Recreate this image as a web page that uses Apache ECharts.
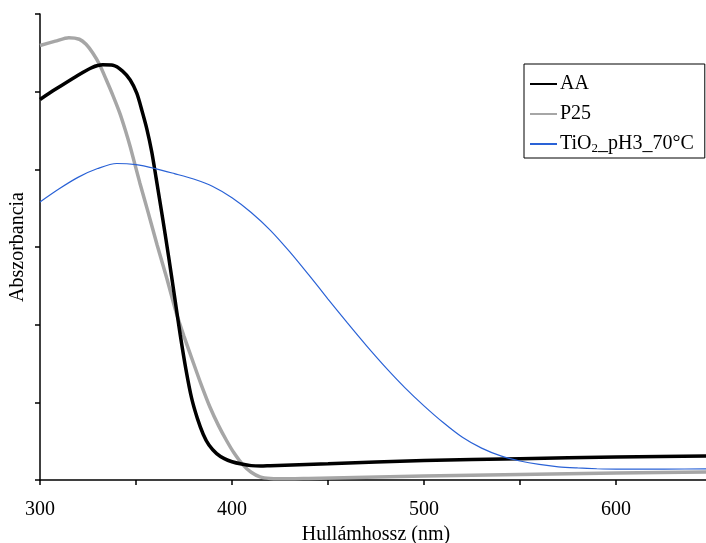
<!DOCTYPE html>
<html>
<head>
<meta charset="utf-8">
<script src="https://cdn.jsdelivr.net/npm/echarts@6/dist/echarts.min.js"></script>
<style>html,body{margin:0;padding:0;background:#fff}#c{width:706px;height:543px}</style>
</head>
<body>
<div id="c"></div>
<script>
// Wavelength (nm) and absorbance readings per series
var aaX = [300, 308, 319, 327, 332.6, 338, 343, 347, 350.4, 353, 355.6, 358.2, 360.4, 364, 367, 370, 373, 376, 379, 382, 385, 388, 392, 396, 400, 405, 410, 415, 420, 450, 500, 550, 600, 650];
var aaY = [0.98, 1.006, 1.04, 1.062, 1.069, 1.068, 1.053, 1.03, 0.996, 0.953, 0.905, 0.845, 0.78, 0.67, 0.575, 0.475, 0.375, 0.285, 0.21, 0.158, 0.118, 0.09, 0.068, 0.055, 0.047, 0.041, 0.037, 0.036, 0.037, 0.042, 0.05, 0.055, 0.059, 0.062];

var p25X = [300, 308, 315, 320.5, 324, 327.4, 331, 334.4, 338, 341.7, 344.5, 347, 352, 356, 361, 366, 371, 375, 380, 384, 388.5, 393, 397, 401, 405.7, 410, 414.6, 420, 430, 440, 500, 550, 600, 650];
var p25Y = [1.119, 1.13, 1.139, 1.135, 1.122, 1.1, 1.07, 1.032, 0.99, 0.943, 0.9, 0.858, 0.765, 0.695, 0.605, 0.52, 0.43, 0.37, 0.30, 0.245, 0.188, 0.14, 0.103, 0.07, 0.039, 0.02, 0.008, 0.004, 0.003, 0.004, 0.01, 0.014, 0.018, 0.021];

var tioX = [300, 310, 320, 330, 340, 350, 360, 370, 380, 390, 400, 410, 420, 430, 440, 450, 460, 470, 480, 490, 500, 510, 520, 530, 540, 550, 560, 570, 580, 590, 600, 625, 650];
var tioY = [0.716, 0.75, 0.78, 0.802, 0.815, 0.812, 0.802, 0.789, 0.775, 0.756, 0.727, 0.689, 0.643, 0.588, 0.528, 0.466, 0.405, 0.346, 0.29, 0.238, 0.191, 0.148, 0.11, 0.082, 0.062, 0.049, 0.04, 0.034, 0.031, 0.029, 0.028, 0.028, 0.029];

var seriesNames = ['AA', 'P25', 'TiO2_pH3_70°C'];
var xTickLabels = [300, 400, 500, 600];

function zip(xs, ys) { return xs.map(function (x, i) { return [x, ys[i]]; }); }

var chart = echarts.init(document.getElementById('c'), null, { renderer: 'canvas' });
var font = '"Liberation Serif", "Times New Roman", serif';
chart.setOption({
  animation: false,
  backgroundColor: '#fff',
  grid: { left: 40, width: 672, top: 14, bottom: 63, containLabel: false, outerBoundsMode: 'none' },
  xAxis: {
    type: 'value', min: 300, max: 650, interval: 50,
    name: 'Hullámhossz (nm)', nameLocation: 'middle', nameGap: 45,
    nameTextStyle: { fontFamily: font, fontSize: 20, color: '#000' },
    axisLine: { show: true, lineStyle: { color: '#000', width: 1.5 } },
    axisTick: { show: true, inside: false, length: 5, lineStyle: { color: '#000', width: 1.5 } },
    axisLabel: {
      margin: 20, fontFamily: font, fontSize: 20, color: '#000',
      formatter: function (v) { return xTickLabels.indexOf(v) >= 0 ? String(v) : ''; }
    },
    splitLine: { show: false }
  },
  yAxis: {
    type: 'value', min: 0, max: 1.2, interval: 0.2,
    name: 'Abszorbancia', nameLocation: 'middle', nameGap: 12,
    nameTextStyle: { fontFamily: font, fontSize: 20, color: '#000' },
    axisLine: { show: true, lineStyle: { color: '#000', width: 1.5 } },
    axisTick: { show: true, inside: false, length: 5, lineStyle: { color: '#000', width: 1.5 } },
    axisLabel: { show: false },
    splitLine: { show: false }
  },
  legend: {
    orient: 'vertical', left: 524, top: 64,
    backgroundColor: '#fff', borderColor: '#000', borderWidth: 1,
    padding: [10, 11, 3, 5], itemGap: 10, itemWidth: 27, itemHeight: 14,
    itemStyle: { opacity: 0 },
    data: seriesNames,
    formatter: function (n) {
      if (n === 'TiO2_pH3_70°C') return '{a|TiO}{s|2}{a|_pH3_70°C}';
      return '{a|' + n + '}';
    },
    textStyle: {
      fontFamily: font, fontSize: 20, color: '#000', padding: [0, 0, 0, -2],
      rich: {
        a: { fontFamily: font, fontSize: 20, color: '#000' },
        s: { fontFamily: font, fontSize: 13, color: '#000', padding: [9, 0, 0, 0] }
      }
    }
  },
  series: [
    { name: 'P25', type: 'line', data: zip(p25X, p25Y), showSymbol: false, symbol: 'none', smooth: 0.25,
      lineStyle: { color: '#a6a6a6', width: 3.5 }, itemStyle: { color: '#a6a6a6' }, z: 2 },
    { name: 'AA', type: 'line', data: zip(aaX, aaY), showSymbol: false, symbol: 'none', smooth: 0.25,
      lineStyle: { color: '#000', width: 3.5 }, itemStyle: { color: '#000' }, z: 3 },
    { name: 'TiO2_pH3_70°C', type: 'line', data: zip(tioX, tioY), showSymbol: false, symbol: 'none', smooth: 0.3,
      lineStyle: { color: '#2a62d6', width: 1.2 }, itemStyle: { color: '#2a62d6' }, z: 4 }
  ]
});
</script>
</body>
</html>
